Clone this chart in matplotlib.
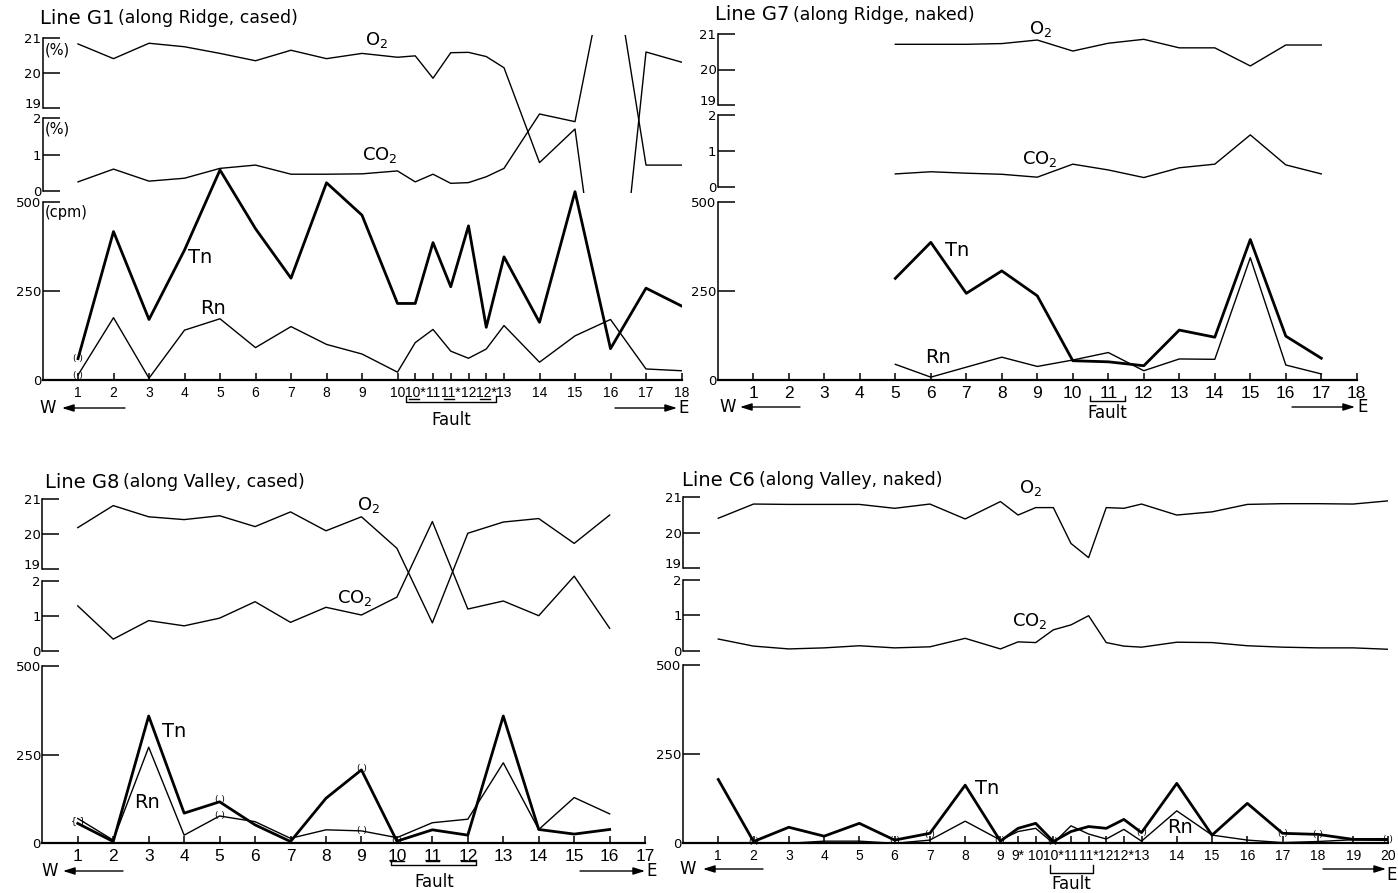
import matplotlib.pyplot as plt
from matplotlib.transforms import blended_transform_factory

plt.rcParams['font.family'] = ['DejaVu Sans']
TICK_FONT = ['Liberation Sans Narrow', 'Liberation Sans', 'DejaVu Sans']

W, H = 1398, 893

# ---------------- data ----------------
# Line G1 (along Ridge, cased)
g1_x = [1, 2, 3, 4, 5, 6, 7, 8, 9, 10, 10.5, 11, 11.5, 12, 12.5, 13, 14, 15, 16, 17, 18]
g1_lab = ['1', '2', '3', '4', '5', '6', '7', '8', '9', '10', '10*', '11', '11*',
          '12', '12*', '13', '14', '15', '16', '17', '18']
g1_o2 = [20.83, 20.41, 20.85, 20.75, 20.56, 20.35, 20.65, 20.41, 20.56, 20.45, 20.49,
         19.85, 20.58, 20.59, 20.47, 20.15, 17.44, 18.40, 11.0, 20.60, 20.31]
g1_co2 = [0.25, 0.60, 0.27, 0.35, 0.62, 0.71, 0.46, 0.46, 0.47, 0.55, 0.25,
          0.46, 0.21, 0.23, 0.39, 0.62, 2.11, 1.90, 6.8, 0.71, 0.71]
g1_tn = [60, 417, 170, 365, 590, 425, 286, 554, 463, 215, 215,
         386, 262, 433, 148, 346, 162, 529, 88, 258, 208]
g1_rn = [14, 175, 5, 140, 172, 91, 150, 100, 73, 22, 105,
         142, 81, 61, 87, 153, 50, 124, 170, 31, 26]
g1_paren = [(1, 60, '( )'), (1, 14, '( )')]
g1_underline = [10.5, 11.5, 12.5]

# Line G7 (along Ridge, naked)
g7_ticks = list(range(1, 19))
g7_x = [5, 6, 7, 8, 9, 10, 11, 12, 13, 14, 15, 16, 17]
g7_o2 = [20.71, 20.71, 20.71, 20.73, 20.83, 20.52, 20.74, 20.85, 20.61, 20.61, 20.10, 20.69, 20.69]
g7_co2 = [0.37, 0.43, 0.39, 0.36, 0.28, 0.64, 0.48, 0.27, 0.54, 0.64, 1.45, 0.62, 0.37]
g7_tn = [285, 386, 243, 306, 236, 54, 51, 40, 140, 120, 394, 123, 61]
g7_rn = [44, 8, 36, 64, 38, 56, 77, 26, 59, 58, 343, 42, 17]

# Line G8 (along Valley, cased)
g8_ticks = list(range(1, 18))
g8_x = list(range(1, 17))
g8_o2 = [20.19, 20.82, 20.50, 20.42, 20.53, 20.22, 20.64, 20.10, 20.50, 19.60, 17.47,
         20.03, 20.35, 20.45, 19.74, 20.55]
g8_co2 = [1.28, 0.33, 0.86, 0.71, 0.93, 1.40, 0.81, 1.24, 1.02, 1.53, 3.69,
          1.19, 1.42, 1.00, 2.13, 0.64]
g8_tn = [56, 5, 359, 85, 117, 52, 5, 127, 207, 6, 38, 23, 359, 39, 26, 39]
g8_rn = [70, 9, 271, 23, 77, 61, 14, 38, 35, 16, 58, 68, 227, 39, 129, 83]
g8_paren = [(1, 64, '{ }'), (5, 124, '( )'), (5, 77, '( )'), (9, 210, '( )'),
            (9, 35, '( )'), (10, 8, '( )')]
g8_underline = [10, 11, 12]

# Line C6 (along Valley, naked)
c6_x = [1, 2, 3, 4, 5, 6, 7, 8, 9, 9.5, 10, 10.5, 11, 11.5, 12, 12.5, 13,
        14, 15, 16, 17, 18, 19, 20]
c6_lab = ['1', '2', '3', '4', '5', '6', '7', '8', '9', '9*', '10', '10*', '11',
          '11*', '12', '12*', '13', '14', '15', '16', '17', '18', '19', '20']
c6_o2 = [20.41, 20.81, 20.80, 20.80, 20.80, 20.69, 20.81, 20.39, 20.88, 20.50, 20.71, 20.71,
         19.70, 19.30, 20.71, 20.69, 20.81, 20.50, 20.59, 20.80, 20.82, 20.82, 20.81, 20.90]
c6_co2 = [0.33, 0.13, 0.05, 0.08, 0.14, 0.08, 0.11, 0.35, 0.05, 0.25, 0.23, 0.59,
          0.73, 0.99, 0.23, 0.13, 0.10, 0.24, 0.23, 0.14, 0.10, 0.08, 0.08, 0.04]
c6_tn = [179, 5, 45, 20, 56, 9, 28, 163, 6, 42, 56, 5, 33, 47, 42, 67, 30,
         168, 23, 112, 28, 25, 11, 11]
c6_rn = [0, 2, 0, 6, 6, 0, 9, 62, 9, 33, 42, 0, 49, 26, 12, 39, 6,
         91, 23, 9, 2, 5, 10, 8]
c6_paren = [(2, 5, '( )'), (6, 9, '( )'), (7, 25, '( )'), (9, 8, '( )'), (10.5, 4, '( )'),
            (13, 30, '( )'), (17, 28, '( )'), (18, 25, '( )'), (20, 11, '( )')]

# ---------------- layout (pixels) ----------------
geo = {
    'G1': dict(x0=42.5, dx=35.5, n=18, o2=(38, 108), co2=(118, 191), rn=(202, 380)),
    'G7': dict(x0=717.8, dx=35.5, n=18, o2=(34, 105), co2=(115, 187.3), rn=(201.7, 380)),
    'G8': dict(x0=42.3, dx=35.46, n=17, o2=(499.3, 569.3), co2=(580.7, 650.7), rn=(666, 843.3)),
    'C6': dict(x0=683, dx=35.27, n=20, o2=(497.3, 568.3), co2=(580, 650.7), rn=(665, 843.3)),
}

fig = plt.figure(figsize=(W / 100, H / 100), dpi=100)


def px_axes(x0, x1, ytop, ybot):
    ax = fig.add_axes([x0 / W, 1 - ybot / H, (x1 - x0) / W, (ybot - ytop) / H])
    ax.patch.set_visible(False)
    for s in ('top', 'right', 'bottom'):
        ax.spines[s].set_visible(False)
    return ax


def ylim_from(ytop, ybot, v_hi, y_hi, v_lo, y_lo):
    k = (v_hi - v_lo) / (y_lo - y_hi)
    return v_lo - (ybot - y_lo) * k, v_lo + (y_lo - ytop) * k


def y_axis(ax, lo, hi, ticks, labels):
    ax.spines['left'].set_bounds(lo, hi)
    ax.spines['left'].set_linewidth(1.1)
    ax.set_yticks(ticks)
    ax.set_yticklabels(labels)
    ax.tick_params(axis='y', direction='in', length=12, width=1.1, labelsize=9.5, pad=1)


def panel(g, x, ticks, ticklabels, o2, co2, tn, rn, labels_at, tick_size=12.5):
    x1 = g['x0'] + g['n'] * g['dx']
    gas_top = g['o2'][0] - 3
    gas_bot = g['co2'][1] + 1.5
    ybase = g['rn'][1]

    ax_o2 = px_axes(g['x0'], x1, gas_top, gas_bot)
    ax_co2 = px_axes(g['x0'], x1, gas_top, gas_bot)
    ax_rn = px_axes(g['x0'], x1, gas_top, ybase)
    for ax in (ax_o2, ax_co2, ax_rn):
        ax.set_xlim(0, g['n'])
    ax_o2.set_ylim(*ylim_from(gas_top, gas_bot, 21, g['o2'][0], 19, g['o2'][1]))
    ax_co2.set_ylim(*ylim_from(gas_top, gas_bot, 2, g['co2'][0], 0, g['co2'][1]))
    ax_rn.set_ylim(*ylim_from(gas_top, ybase, 500, g['rn'][0], 0, g['rn'][1]))

    y_axis(ax_o2, 19, 21, [19, 20, 21], ['19', '20', '21'])
    y_axis(ax_co2, 0, 2, [0, 1, 2], ['0', '1', '2'])
    y_axis(ax_rn, 0, 500, [0, 250, 500], ['0', '250', '500'])
    ax_o2.get_yticklabels()[0].set_va('baseline')
    ax_o2.set_xticks([])
    ax_co2.set_xticks([])

    ax_rn.spines['bottom'].set_visible(True)
    ax_rn.spines['bottom'].set_linewidth(1.6)
    ax_rn.set_xticks(ticks)
    ax_rn.set_xticklabels(ticklabels, fontfamily=TICK_FONT, fontsize=tick_size)
    ax_rn.tick_params(axis='x', direction='in', length=5, width=1.1, pad=4)

    ax_o2.plot(x, o2, color='k', lw=1.0)
    ax_co2.plot(x, co2, color='k', lw=1.0)
    ax_rn.plot(x, tn, color='k', lw=2.0)
    ax_rn.plot(x, rn, color='k', lw=1.0)

    lo, lc, lt, lr = labels_at
    ax_o2.text(lo[0], lo[1], 'O$_2$', ha='center', va='center', fontsize=13)
    ax_co2.text(lc[0], lc[1], 'CO$_2$', ha='center', va='center', fontsize=13)
    ax_rn.text(lt[0], lt[1], 'Tn', ha='center', va='center', fontsize=14)
    ax_rn.text(lr[0], lr[1], 'Rn', ha='center', va='center', fontsize=14)
    return ax_rn


def parens(ax, pts):
    for sx, v, s in pts:
        ax.text(sx, v, s, ha='center', va='center', fontsize=6.5)


def arrows(yw, w_x, w_tail, w_head, e_tail, e_head, e_x, e_y=None):
    fy = 1 - yw / H
    kw = dict(arrowstyle='-|>,head_length=0.7,head_width=0.22', lw=1.0, color='k',
              shrinkA=0, shrinkB=0)
    fig.add_artist(plt.Annotation('', xy=(w_head / W, fy), xytext=(w_tail / W, fy),
                                  xycoords='figure fraction', arrowprops=kw))
    fig.add_artist(plt.Annotation('', xy=(e_head / W, fy), xytext=(e_tail / W, fy),
                                  xycoords='figure fraction', arrowprops=kw))
    fig.text(w_x / W, fy, 'W', ha='center', va='center', fontsize=12)
    ey = fy if e_y is None else 1 - e_y / H
    fig.text(e_x / W, ey, 'E', ha='center', va='center', fontsize=12)


def fault(ax, xa, xb, ybar, yend, ytext):
    tr = blended_transform_factory(ax.transData, fig.transFigure)
    ax.plot([xa, xa, xb, xb], [1 - yend / H, 1 - ybar / H, 1 - ybar / H, 1 - yend / H],
            color='k', lw=1.0, transform=tr, clip_on=False)
    ax.text((xa + xb) / 2, 1 - ytext / H, 'Fault', ha='center', va='center',
            fontsize=12, transform=tr)


def underlines(ax, xs, y, left, right):
    tr = blended_transform_factory(ax.transData, fig.transFigure)
    for sx in xs:
        ax.plot([sx - left, sx + right], [1 - y / H, 1 - y / H], color='k', lw=1.0,
                transform=tr, clip_on=False)


def title(x, y, line, rest):
    t = fig.text(x / W, 1 - y / H, line, ha='left', va='center', fontsize=14)
    fig.canvas.draw()
    bb = t.get_window_extent()
    fig.text((bb.x1 + 4) / W, 1 - y / H, rest, ha='left', va='center', fontsize=12.5)


# ---- G1 ----
ax = panel(geo['G1'], g1_x, g1_x, g1_lab, g1_o2, g1_co2, g1_tn, g1_rn,
           [(9.42, 20.94), (9.5, 0.99), (4.44, 343), (4.8, 202)], tick_size=10)
parens(ax, g1_paren)
underlines(ax, g1_underline, 399, 0.18, 0.1)
fault(ax, 10.24, 12.77, 402, 396, 420)
arrows(408, 48, 125, 62, 615, 677, 684)
title(40, 18, 'Line G1', '(along Ridge, cased)')
fig.text(45 / W, 1 - 50 / H, '(%)', ha='left', va='center', fontsize=10.5)
fig.text(45 / W, 1 - 129 / H, '(%)', ha='left', va='center', fontsize=10.5)
fig.text(45 / W, 1 - 213 / H, '(cpm)', ha='left', va='center', fontsize=10.5)

# ---- G7 ----
ax = panel(geo['G7'], g7_x, g7_ticks, [str(t) for t in g7_ticks], g7_o2, g7_co2, g7_tn, g7_rn,
           [(9.08, 21.14), (9.08, 0.78), (6.74, 362), (6.2, 64)])
fault(ax, 10.48, 11.47, 401.5, 396, 413)
arrows(407, 728, 800, 740, 1292, 1355, 1363)
title(715, 15, 'Line G7', '(along Ridge, naked)')

# ---- G8 ----
ax = panel(geo['G8'], g8_x, g8_ticks, [str(t) for t in g8_ticks], g8_o2, g8_co2, g8_tn, g8_rn,
           [(9.21, 20.84), (8.82, 1.51), (3.71, 314), (2.95, 116)])
parens(ax, g8_paren)
underlines(ax, g8_underline, 861, 0.19, 0.19)
fault(ax, 9.84, 12.24, 865, 860, 882)
arrows(871, 50, 123, 63, 580, 645, 652)
title(45, 482, 'Line G8', '(along Valley, cased)')

# ---- C6 ----
ax = panel(geo['C6'], c6_x, c6_x, c6_lab, c6_o2, c6_co2, c6_tn, c6_rn,
           [(9.84, 21.26), (9.84, 0.84), (8.62, 155), (14.09, 43)], tick_size=10)
parens(ax, c6_paren)
fault(ax, 10.4, 11.62, 873, 865, 884)
arrows(869, 688, 763, 703, 1323, 1386, 1392, e_y=875)
title(682, 480, 'Line C6', '(along Valley, naked)')

fig.savefig('out.png', dpi=100)
